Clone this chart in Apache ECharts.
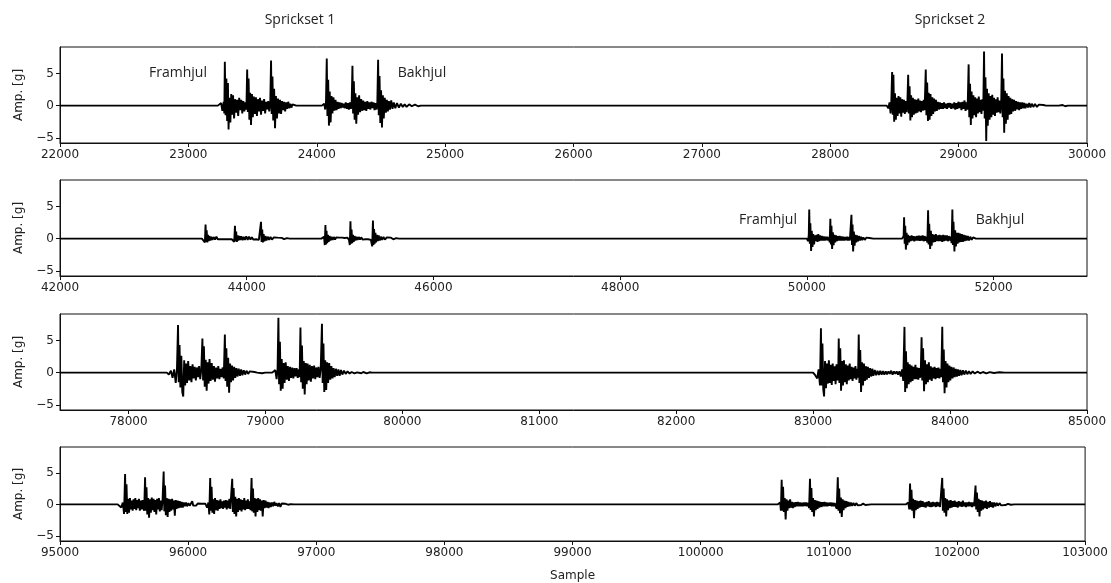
<!DOCTYPE html>
<html>
<head>
<meta charset="utf-8">
<title>Sprickset</title>
<script src="https://cdn.jsdelivr.net/npm/echarts@6/dist/echarts.min.js"></script>
<style>
    html, body { margin: 0; padding: 0; background: #fff; }
    #chart { width: 1111px; height: 583px; }
</style>
</head>
<body>
<div id="chart"></div>
<script>
// sample ranges (x) per row and their tick labels
var xRanges = [[22000, 30000], [42000, 53000], [77500, 85000], [95000, 103000]];
var xTicks = [
    [22000, 23000, 24000, 25000, 26000, 27000, 28000, 29000, 30000],
    [42000, 44000, 46000, 48000, 50000, 52000],
    [78000, 79000, 80000, 81000, 82000, 83000, 84000, 85000],
    [95000, 96000, 97000, 98000, 99000, 100000, 101000, 102000, 103000]
];
var yRange = [-5.8, 9.1];
var yTicks = [-5, 0, 5];

// row 1 - sprickset 1 (framhjul + bakhjul)
var row1Set1 = [[23230,0],[23245,-0.3],[23255,0.4],[23265,-0.8],[23275,0.6],[23280,-1.2],[23284,6.8],[23290,-1.5],[23296,4.2],[23302,-2.4],[23308,3.5],[23313,-3.7],[23320,1.2],[23327,-2.6],[23334,1.8],[23341,-1.4],[23348,1.6],[23356,-2.0],[23364,1.0],[23372,-1.1],[23380,0.9],[23388,-1.6],[23396,1.2],[23404,-0.7],[23412,0.9],[23420,-1.2],[23428,0.7],[23436,-0.9],[23444,0.5],[23452,-0.6],[23458,5.6],[23463,-1.0],[23469,4.2],[23475,-2.2],[23481,2.0],[23488,-3.0],[23495,1.8],[23502,-1.8],[23510,1.4],[23518,-1.3],[23526,1.3],[23534,-1.6],[23542,1.0],[23550,-0.9],[23558,1.2],[23566,-1.4],[23574,0.8],[23582,-0.8],[23590,1.0],[23598,-1.2],[23606,0.6],[23614,-0.6],[23622,0.7],[23630,-0.9],[23638,0.4],[23644,7.0],[23649,-1.3],[23655,4.5],[23661,-2.3],[23668,2.6],[23675,-3.5],[23682,1.5],[23690,-2.0],[23698,1.1],[23706,-1.2],[23714,0.9],[23722,-1.3],[23730,0.7],[23738,-0.7],[23746,0.6],[23754,-0.9],[23762,0.5],[23770,-0.5],[23778,0.6],[23786,-0.4],[23794,0.3],[23802,-0.3],[23812,0.2],[23825,-0.1],[23840,0],
    [24040,0],[24050,-0.2],[24058,0.3],[24066,-0.6],[24072,0.5],[24078,7.3],[24083,-1.6],[24089,4.0],[24095,-3.1],[24101,2.2],[24108,-2.6],[24115,1.5],[24122,-1.2],[24130,1.3],[24138,-0.8],[24146,0.9],[24154,-0.7],[24162,0.6],[24170,-0.5],[24178,0.5],[24186,-0.4],[24194,0.4],[24202,-0.3],[24210,0.3],[24218,-0.4],[24226,0.5],[24234,-0.5],[24242,0.4],[24250,-0.6],[24258,0.5],[24266,-0.5],[24272,0.3],[24278,6.2],[24283,-1.2],[24289,3.8],[24295,-2.2],[24301,1.9],[24308,-2.8],[24315,1.3],[24322,-1.4],[24330,1.6],[24338,-1.0],[24346,1.0],[24354,-0.8],[24362,0.8],[24370,-0.7],[24378,0.6],[24386,-0.8],[24394,0.7],[24402,-0.5],[24410,0.5],[24418,-0.6],[24426,0.6],[24434,-0.4],[24442,0.5],[24450,-0.7],[24458,0.4],[24466,-0.6],[24472,0.5],[24478,7.1],[24483,-1.5],[24489,4.6],[24495,-2.7],[24501,2.4],[24508,-3.4],[24515,1.6],[24522,-2.0],[24530,1.2],[24538,-1.1],[24546,0.9],[24554,-0.9],[24562,0.7],[24570,-0.6],[24580,0.8],[24590,-0.5],[24600,0.5],[24612,-0.4],[24625,0.4],[24640,-0.3],[24655,0.3],[24670,-0.2],[24685,0.2],[24700,-0.2],[24720,0.2],[24740,-0.1],[24765,0.15],[24790,-0.1],[24810,0]];

// row 1 - sprickset 2
var row1Set2 = [[28440,0],[28452,-0.4],[28462,0.5],[28470,-1.2],[28476,0.8],[28482,5.2],[28487,-1.4],[28492,4.8],[28498,-2.5],[28504,1.9],[28511,-2.2],[28518,1.2],[28525,-1.6],[28532,1.5],[28539,-1.2],[28546,1.3],[28553,-1.7],[28560,1.0],[28567,-1.1],[28574,0.9],[28581,-1.3],[28588,0.7],[28595,-1.0],[28601,0.6],[28607,4.8],[28612,-1.2],[28618,3.0],[28624,-2.3],[28630,1.6],[28637,-1.8],[28644,1.2],[28651,-1.4],[28658,1.0],[28665,-1.2],[28672,0.9],[28679,-1.1],[28686,1.1],[28693,-0.9],[28700,0.8],[28707,-1.0],[28714,0.7],[28721,-0.8],[28728,0.9],[28735,-0.7],[28744,5.6],[28749,-1.5],[28755,3.6],[28761,-2.4],[28767,2.0],[28774,-2.2],[28781,1.8],[28788,-1.6],[28795,1.3],[28802,-1.3],[28809,1.1],[28816,-0.9],[28823,0.9],[28830,-0.8],[28838,0.6],[28846,-0.6],[28854,0.5],[28862,-0.5],[28870,0.4],[28878,-0.5],[28886,0.5],[28894,-0.4],[28902,0.3],[28910,-0.5],[28918,0.4],[28926,-0.3],[28934,0.4],[28942,-0.5],[28950,0.3],[28958,-0.4],[28966,0.5],[28974,-0.6],[28982,0.4],[28990,-0.5],[28998,0.6],[29006,-0.4],[29014,0.5],[29022,-0.7],[29030,0.6],[29038,-0.5],[29046,0.8],[29054,-0.8],[29062,0.5],[29070,-0.6],[29078,6.4],[29083,-1.8],[29089,3.4],[29095,-3.0],[29101,2.2],[29108,-2.0],[29115,1.6],[29122,-1.5],[29129,1.3],[29136,-1.8],[29143,1.1],[29150,-1.2],[29157,1.4],[29164,-1.0],[29171,0.9],[29178,-1.3],[29185,1.0],[29192,-0.8],[29198,8.4],[29203,-2.0],[29209,4.4],[29215,-5.5],[29221,2.6],[29227,-3.1],[29234,1.9],[29241,-2.2],[29248,1.5],[29255,-1.8],[29262,1.7],[29269,-1.4],[29276,1.2],[29283,-1.6],[29290,1.0],[29297,-1.1],[29304,1.3],[29311,-1.0],[29318,0.8],[29325,-1.2],[29332,0.6],[29338,8.1],[29343,-1.8],[29349,4.2],[29355,-4.2],[29361,2.3],[29368,-2.8],[29375,1.9],[29382,-2.2],[29389,1.5],[29396,-1.4],[29403,1.2],[29410,-1.3],[29417,1.0],[29424,-0.9],[29432,0.9],[29440,-0.8],[29448,0.7],[29456,-0.6],[29464,0.6],[29472,-0.7],[29480,0.5],[29488,-0.5],[29496,0.5],[29504,-0.4],[29512,0.4],[29520,-0.4],[29530,0.3],[29540,-0.3],[29550,0.4],[29560,-0.3],[29570,0.3],[29582,-0.2],[29595,0.25],[29610,-0.2],[29625,0.15],[29640,-0.15],[29660,0.1],[29680,0],[29780,0],[29795,-0.15],[29810,0.1],[29830,-0.1],[29850,0]];

// row 2 - sprickset 1
var row2Set1 = [[43520,0],[43540,-0.2],[43552,-0.6],[43559,2.2],[43565,-0.5],[43571,1.3],[43578,-0.6],[43585,0.6],[43592,-0.4],[43600,0.4],[43610,-0.3],[43620,0.3],[43632,-0.2],[43645,0.25],[43660,-0.15],[43675,0.3],[43690,-0.1],[43705,0.2],[43720,-0.1],[43740,0.15],[43760,-0.1],[43780,0.1],[43800,-0.1],[43820,0.1],[43840,-0.1],[43855,0.1],[43866,-0.5],[43874,2.0],[43880,-0.4],[43887,1.1],[43894,-0.5],[43902,0.5],[43910,-0.3],[43920,0.4],[43930,-0.2],[43942,0.35],[43955,-0.25],[43968,0.3],[43980,-0.2],[43995,0.35],[44010,-0.2],[44025,0.3],[44040,-0.15],[44055,0.2],[44070,-0.15],[44085,0.15],[44100,-0.1],[44115,0.15],[44130,-0.2],[44145,-0.5],[44153,2.6],[44159,-0.5],[44166,1.4],[44173,-0.6],[44181,0.7],[44190,-0.4],[44200,0.4],[44212,-0.3],[44225,0.3],[44240,-0.2],[44255,0.25],[44270,-0.15],[44290,0.2],[44310,-0.1],[44330,0.15],[44350,-0.1],[44375,0.12],[44400,-0.08],[44430,0.08],[44460,0],
    [44800,0],[44815,-0.2],[44828,0.3],[44836,-1.0],[44843,2.1],[44849,-0.9],[44855,1.2],[44862,-0.7],[44870,0.6],[44878,-0.5],[44887,0.4],[44897,-0.3],[44908,0.3],[44920,-0.2],[44933,0.25],[44946,-0.15],[44960,0.2],[44975,-0.1],[44990,0.15],[45005,-0.1],[45020,0.15],[45035,-0.1],[45050,0.1],[45065,-0.1],[45080,0.15],[45095,-0.2],[45104,-1.0],[45111,2.7],[45117,-0.8],[45123,1.4],[45130,-0.7],[45138,0.6],[45146,-0.5],[45155,0.4],[45165,-0.3],[45176,0.3],[45188,-0.2],[45200,0.25],[45213,-0.15],[45226,0.2],[45240,-0.15],[45255,0.15],[45270,-0.1],[45285,0.15],[45300,-0.1],[45315,0.12],[45330,-0.2],[45344,-1.2],[45352,2.8],[45358,-1.0],[45364,1.5],[45371,-0.8],[45378,0.9],[45386,-0.6],[45395,0.6],[45404,-0.4],[45414,0.5],[45425,-0.3],[45437,0.3],[45450,-0.2],[45465,0.25],[45480,-0.15],[45500,0.2],[45520,-0.1],[45545,0.15],[45570,-0.1],[45600,0.08],[45630,0]];

// row 2 - sprickset 2
var row2Set2 = [[50000,0],[50012,-0.4],[50020,0.6],[50025,4.5],[50031,-0.8],[50037,2.4],[50045,-1.9],[50052,1.2],[50060,-1.3],[50068,0.7],[50077,-0.9],[50086,0.5],[50095,-0.4],[50104,0.6],[50113,-0.5],[50122,0.7],[50131,-0.4],[50140,0.5],[50150,-0.3],[50160,0.4],[50170,-0.3],[50180,0.35],[50190,-0.3],[50200,0.3],[50210,-0.25],[50220,0.3],[50230,-0.3],[50238,0.2],[50244,-0.6],[50251,3.1],[50257,-0.9],[50263,2.0],[50270,-1.6],[50278,1.0],[50286,-1.0],[50295,0.6],[50304,-0.6],[50313,0.5],[50322,-0.4],[50331,0.4],[50340,-0.3],[50350,0.4],[50360,-0.3],[50370,0.35],[50380,-0.3],[50390,0.3],[50400,-0.3],[50410,0.25],[50420,-0.25],[50430,0.3],[50440,-0.3],[50450,0.25],[50460,-0.3],[50470,-0.6],[50477,3.7],[50483,-1.0],[50489,2.2],[50495,-2.0],[50503,1.1],[50511,-1.1],[50520,0.6],[50529,-0.6],[50538,0.5],[50548,-0.4],[50558,0.4],[50568,-0.3],[50580,0.3],[50592,-0.25],[50605,0.2],[50620,-0.2],[50635,0.15],[50650,-0.1],[50670,0.1],[50690,-0.05],[50710,0],
    [51020,0],[51030,-0.3],[51036,0.4],[51041,3.3],[51047,-0.8],[51053,2.0],[51060,-1.7],[51068,0.9],[51076,-1.0],[51085,0.6],[51094,-0.6],[51103,0.4],[51112,-0.4],[51121,0.5],[51130,-0.3],[51140,0.4],[51150,-0.4],[51160,0.35],[51170,-0.3],[51180,0.4],[51190,-0.3],[51200,0.45],[51210,-0.35],[51220,0.4],[51230,-0.3],[51240,0.5],[51250,-0.4],[51260,0.4],[51270,-0.35],[51280,0.3],[51290,-0.6],[51298,4.4],[51304,-0.9],[51310,2.3],[51320,-1.6],[51328,1.2],[51336,-1.1],[51345,0.7],[51354,-0.6],[51363,0.6],[51372,-0.5],[51381,0.7],[51390,-0.4],[51400,0.5],[51410,-0.4],[51420,0.6],[51430,-0.4],[51440,0.5],[51450,-0.5],[51460,0.6],[51470,-0.4],[51480,0.5],[51490,-0.3],[51500,0.5],[51510,-0.4],[51520,0.4],[51530,-0.3],[51540,0.3],[51550,-0.7],[51558,4.5],[51564,-1.0],[51570,2.6],[51580,-2.0],[51588,1.3],[51596,-1.2],[51605,0.9],[51614,-0.8],[51623,0.9],[51632,-0.6],[51641,0.8],[51650,-0.5],[51660,0.7],[51670,-0.5],[51680,0.6],[51690,-0.4],[51700,0.5],[51712,-0.3],[51724,0.4],[51736,-0.3],[51750,0.3],[51765,-0.2],[51780,0.2],[51795,-0.1],[51810,0]];

// row 3 - sprickset 1
var row3Set1 = [[78280,0],[78295,-0.3],[78310,0.3],[78322,-0.8],[78334,0.5],[78345,-1.6],[78354,0.4],[78362,7.4],[78367,-1.5],[78373,4.3],[78379,-2.3],[78386,2.6],[78393,-3.0],[78400,-3.7],[78407,1.9],[78414,-2.0],[78421,1.4],[78428,-1.6],[78436,1.8],[78444,-1.2],[78452,1.0],[78460,-1.5],[78468,1.3],[78476,-0.9],[78484,0.9],[78492,-1.2],[78500,0.8],[78508,-0.7],[78516,1.0],[78524,-1.0],[78532,0.5],[78540,5.3],[78545,-1.2],[78551,4.1],[78557,-2.2],[78564,2.0],[78571,-2.8],[78578,1.6],[78585,-1.7],[78592,2.1],[78600,-1.3],[78608,1.5],[78616,-1.1],[78624,1.0],[78632,-1.4],[78640,0.8],[78648,-0.9],[78656,1.0],[78664,-1.0],[78672,0.6],[78680,-0.7],[78688,0.8],[78696,-0.9],[78704,5.9],[78709,-1.3],[78715,3.8],[78721,-2.2],[78728,2.3],[78735,-3.1],[78742,1.4],[78749,-1.5],[78756,1.1],[78764,-1.2],[78772,0.9],[78780,-0.8],[78788,0.7],[78796,-0.6],[78805,0.6],[78814,-0.5],[78823,0.5],[78832,-0.4],[78842,0.35],[78852,-0.3],[78862,0.3],[78874,-0.2],[78886,0.2],[78900,-0.1],[78920,0.1],[78940,0],[78975,-0.1],[78985,0.1],[78998,0],
    [79050,0],[79062,-0.3],[79072,0.4],[79082,-1.0],[79089,0.6],[79095,8.5],[79100,-1.8],[79106,4.8],[79112,-2.8],[79119,2.1],[79126,-2.5],[79133,1.5],[79140,-1.6],[79148,1.6],[79156,-1.1],[79164,1.0],[79172,-1.3],[79180,0.9],[79188,-0.8],[79196,0.8],[79204,-0.9],[79212,0.7],[79220,-0.6],[79228,0.7],[79236,-0.8],[79244,0.5],[79250,-0.7],[79256,7.0],[79261,-1.5],[79267,4.2],[79273,-2.5],[79280,1.8],[79287,-3.4],[79294,1.5],[79301,-1.8],[79308,1.4],[79316,-1.2],[79324,1.2],[79332,-1.4],[79340,1.0],[79348,-0.9],[79356,1.1],[79364,-1.0],[79372,0.8],[79380,-0.7],[79388,0.9],[79396,-0.8],[79404,0.6],[79413,7.6],[79418,-1.6],[79424,4.5],[79430,-3.0],[79437,1.9],[79444,-2.7],[79451,1.6],[79458,-1.6],[79466,1.5],[79474,-1.1],[79482,1.0],[79490,-0.9],[79498,0.7],[79506,-0.7],[79515,0.6],[79524,-0.5],[79533,0.5],[79542,-0.5],[79552,0.4],[79562,-0.3],[79574,0.3],[79586,-0.2],[79600,0.2],[79615,-0.15],[79630,0.1],[79650,-0.1],[79670,0.05],[79700,-0.1],[79715,0.1],[79740,-0.1],[79760,0.05],[79780,0]];

// row 3 - sprickset 2
var row3Set2 = [[83000,0],[83015,-0.4],[83030,-0.9],[83040,0.5],[83050,-2.0],[83057,6.9],[83062,-2.0],[83068,4.5],[83074,-2.6],[83080,-3.7],[83087,1.8],[83094,-2.4],[83101,1.4],[83108,-1.7],[83115,1.9],[83122,-1.6],[83129,1.2],[83136,-1.9],[83143,1.4],[83150,-1.3],[83157,1.0],[83164,-1.8],[83171,1.3],[83178,-1.2],[83184,0.8],[83187,5.3],[83192,-1.6],[83198,3.8],[83204,-2.8],[83211,1.8],[83218,-2.0],[83225,1.9],[83232,-1.5],[83239,1.3],[83246,-1.8],[83253,1.1],[83260,-1.2],[83267,1.4],[83274,-1.0],[83281,0.9],[83288,-1.3],[83295,0.8],[83302,-0.9],[83309,1.0],[83316,-1.1],[83322,0.6],[83328,-0.8],[83333,5.9],[83338,-1.6],[83344,3.5],[83350,-3.0],[83357,1.6],[83364,-2.0],[83371,1.4],[83378,-1.3],[83385,1.0],[83392,-1.1],[83400,0.9],[83408,-0.8],[83416,0.7],[83424,-0.6],[83432,0.6],[83440,-0.5],[83450,0.4],[83460,-0.4],[83470,0.3],[83480,-0.35],[83490,0.3],[83500,-0.3],[83510,0.25],[83520,-0.3],[83530,0.2],[83540,-0.25],[83550,0.2],[83560,-0.2],[83570,0.3],[83580,-0.3],[83590,0.2],[83600,-0.2],[83610,0.2],[83620,-0.3],[83630,0.2],[83640,-0.6],[83650,0.5],[83658,-1.3],[83667,7.1],[83672,-3.0],[83678,3.3],[83684,-2.4],[83691,1.6],[83698,-1.8],[83705,1.3],[83712,-1.5],[83719,1.1],[83726,-1.3],[83733,0.9],[83740,-1.0],[83747,1.2],[83754,-1.0],[83761,0.8],[83768,-1.1],[83775,0.7],[83782,-0.8],[83787,1.0],[83792,5.5],[83797,-1.2],[83803,3.8],[83810,-2.9],[83817,1.9],[83824,-1.8],[83831,1.3],[83838,-1.5],[83845,1.6],[83852,-1.1],[83859,1.0],[83866,-1.3],[83873,0.8],[83880,-0.9],[83887,0.9],[83894,-1.0],[83901,0.7],[83908,-0.8],[83915,0.8],[83922,-0.9],[83930,0.6],[83936,-0.7],[83943,7.1],[83948,-1.5],[83954,3.6],[83960,-3.2],[83967,1.8],[83974,-2.3],[83981,1.4],[83988,-1.5],[83995,1.1],[84002,-1.2],[84010,0.9],[84018,-0.9],[84026,0.8],[84034,-0.7],[84042,0.6],[84050,-0.6],[84058,0.5],[84066,-0.5],[84075,0.4],[84084,-0.4],[84094,0.35],[84104,-0.3],[84115,0.3],[84126,-0.25],[84138,0.2],[84150,-0.2],[84165,0.2],[84180,-0.15],[84200,0.15],[84220,-0.1],[84240,0.1],[84265,-0.1],[84290,0.08],[84320,-0.05],[84360,0.05],[84400,0]];

// row 4 - sprickset 1
var row4Set1 = [[95450,0],[95465,-0.2],[95478,-0.5],[95490,0.3],[95500,-1.5],[95508,4.8],[95513,-1.2],[95519,3.2],[95525,-1.5],[95532,0.9],[95539,-1.3],[95546,1.0],[95553,-0.8],[95560,0.6],[95567,-1.0],[95574,0.8],[95581,-0.7],[95588,1.0],[95595,-0.9],[95602,0.7],[95609,-0.6],[95616,0.9],[95623,-1.0],[95630,0.6],[95637,-0.8],[95644,0.7],[95651,-0.6],[95657,-1.0],[95664,4.3],[95669,-1.0],[95675,2.7],[95681,-1.6],[95688,1.0],[95695,-2.1],[95702,0.8],[95709,-1.3],[95716,1.1],[95723,-0.9],[95730,0.9],[95737,-1.2],[95744,0.7],[95751,-1.6],[95758,0.9],[95765,-0.8],[95772,1.0],[95779,-1.1],[95786,0.6],[95793,-0.9],[95800,0.5],[95809,5.2],[95814,-1.1],[95820,3.0],[95826,-1.7],[95833,1.0],[95840,-2.0],[95847,0.9],[95854,-1.2],[95861,0.8],[95868,-1.0],[95875,0.9],[95882,-0.8],[95889,0.6],[95896,-1.8],[95903,0.7],[95910,-0.7],[95918,0.6],[95926,-0.6],[95934,0.5],[95942,-0.5],[95950,0.4],[95958,-0.5],[95966,0.3],[95974,-0.3],[95983,0.3],[95992,-0.3],[96002,0.2],[96012,-0.2],[96022,0.15],[96032,0.5],[96040,-0.2],[96050,0.1],[96062,-0.2],[96075,0.15],[96090,-0.15],[96105,0.1],[96120,-0.1],[96135,0.1],[96148,-0.5],[96158,0.3],[96165,-1.6],[96172,4.2],[96177,-1.0],[96183,2.8],[96189,-1.3],[96196,0.8],[96203,-1.5],[96210,1.0],[96217,-0.9],[96224,0.7],[96231,-1.0],[96238,0.6],[96245,-0.7],[96252,0.8],[96259,-0.6],[96266,0.5],[96273,-0.7],[96280,0.6],[96287,-0.5],[96294,0.7],[96301,-0.8],[96308,0.6],[96315,-0.6],[96322,0.9],[96329,-0.7],[96336,-0.9],[96344,4.05],[96349,-1.2],[96355,2.6],[96361,-1.5],[96368,1.2],[96375,-1.9],[96382,0.9],[96389,-1.2],[96396,1.0],[96403,-0.9],[96410,0.8],[96417,-1.1],[96424,0.7],[96431,-0.8],[96438,1.0],[96445,-0.9],[96452,0.6],[96459,-0.7],[96466,0.8],[96473,-0.7],[96480,0.5],[96487,-0.9],[96495,4.2],[96500,-1.1],[96506,2.5],[96512,-1.3],[96519,1.0],[96526,-1.9],[96533,0.9],[96540,-1.2],[96547,1.0],[96554,-0.9],[96561,0.8],[96568,-1.0],[96575,0.6],[96582,-1.9],[96589,0.7],[96596,-0.6],[96604,0.6],[96612,-0.5],[96620,0.4],[96628,-0.6],[96636,0.3],[96645,-0.4],[96654,0.3],[96663,-0.3],[96672,0.4],[96681,-0.2],[96690,0.2],[96700,-0.3],[96710,0.2],[96720,-0.4],[96730,0.15],[96745,-0.1],[96760,0.1],[96780,-0.05],[96800,0.05],[96830,0]];

// row 4 - sprickset 2
var row4Set2 = [[100600,0],[100612,-0.3],[100620,0.3],[100626,-1.0],[100632,3.9],[100637,-1.0],[100643,2.8],[100649,-1.2],[100656,1.0],[100663,-2.4],[100670,0.8],[100677,-1.0],[100684,0.6],[100691,-0.6],[100698,0.8],[100705,-0.5],[100712,0.4],[100719,-0.6],[100726,0.3],[100734,-0.4],[100742,0.35],[100750,-0.3],[100758,0.4],[100766,-0.3],[100774,0.3],[100782,-0.3],[100790,0.25],[100798,-0.3],[100806,0.3],[100814,-0.25],[100822,0.3],[100830,-0.3],[100838,0.25],[100846,-0.6],[100853,4.05],[100858,-0.9],[100864,2.6],[100870,-1.2],[100877,1.0],[100884,-1.9],[100891,0.7],[100898,-0.9],[100905,0.6],[100912,-0.7],[100919,0.5],[100926,-0.5],[100934,0.4],[100942,-0.4],[100950,0.35],[100958,-0.3],[100966,0.4],[100974,-0.3],[100982,0.3],[100990,-0.3],[100998,0.25],[101006,-0.2],[101014,0.3],[101022,-0.3],[101030,0.25],[101038,-0.3],[101046,0.2],[101054,-0.3],[101062,-0.7],[101070,4.3],[101075,-1.0],[101081,2.5],[101087,-1.4],[101094,1.1],[101101,-2.0],[101108,0.8],[101115,-0.9],[101122,0.6],[101130,-0.6],[101138,0.5],[101146,-0.4],[101154,0.4],[101163,-0.3],[101172,0.3],[101182,-0.25],[101192,0.25],[101203,-0.2],[101214,0.2],[101226,-0.15],[101238,0.15],[101252,-0.1],[101268,0.12],[101285,-0.1],[101300,0.08],[101330,0],
    [101600,0],[101612,-0.2],[101620,0.3],[101628,-0.8],[101634,3.3],[101639,-0.8],[101645,2.3],[101651,-1.0],[101658,0.9],[101665,-2.2],[101672,0.7],[101679,-0.9],[101686,0.6],[101693,-0.7],[101700,0.5],[101708,-0.5],[101716,0.6],[101724,-0.4],[101732,0.5],[101740,-0.4],[101748,0.3],[101756,-0.5],[101764,0.4],[101772,-0.3],[101780,0.5],[101788,-0.4],[101796,0.3],[101804,-0.4],[101812,0.4],[101820,-0.3],[101828,0.3],[101836,-0.4],[101844,0.4],[101852,-0.3],[101860,0.3],[101868,-0.4],[101878,-0.7],[101885,4.2],[101890,-1.0],[101896,2.5],[101902,-1.3],[101909,1.0],[101916,-1.9],[101923,0.8],[101930,-0.9],[101937,0.6],[101944,-0.6],[101951,0.7],[101958,-0.5],[101966,0.5],[101974,-0.4],[101982,0.6],[101990,-0.4],[101998,0.4],[102006,-0.5],[102014,0.5],[102022,-0.3],[102030,0.4],[102038,-0.4],[102046,0.6],[102054,-0.3],[102062,0.3],[102070,-0.4],[102078,0.3],[102086,-0.3],[102094,0.4],[102102,-0.3],[102110,0.3],[102118,-0.4],[102126,0.3],[102134,-0.3],[102140,-0.6],[102145,3.0],[102150,-0.8],[102156,1.9],[102162,-1.2],[102169,0.9],[102176,-1.9],[102183,0.7],[102190,-1.0],[102197,0.6],[102204,-0.8],[102211,0.5],[102218,-0.6],[102226,0.6],[102234,-0.7],[102242,0.4],[102250,-0.5],[102258,0.5],[102266,-0.4],[102274,0.3],[102282,-0.5],[102290,0.3],[102300,-0.3],[102310,0.25],[102320,-0.2],[102332,0.2],[102345,-0.15],[102360,0.15],[102378,-0.1],[102398,0.1],[102420,-0.05],[102450,0]];

var rows = [[row1Set1, row1Set2], [row2Set1, row2Set2], [row3Set1, row3Set2], [row4Set1, row4Set2]];

var chart = echarts.init(document.getElementById('chart'));

var gridTops = [47, 180, 314, 447];
var tickFont = { fontFamily: 'DejaVu Sans', fontSize: 12, color: '#222' };
var noteFont = 'Open Sans';

var grids = [], xAxes = [], yAxes = [], series = [];
rows.forEach(function (sets, i) {
    grids.push({
        left: 60, right: 24, top: gridTops[i], height: 96,
        show: true, borderColor: '#111', borderWidth: 1, backgroundColor: '#fff'
    });
    xAxes.push({
        type: 'value', gridIndex: i,
        min: xRanges[i][0], max: xRanges[i][1],
        axisLine: { show: true, onZero: false, lineStyle: { color: '#111' } },
        axisTick: { show: true, length: 4, lineStyle: { color: '#111' }, customValues: xTicks[i] },
        axisLabel: Object.assign({
            margin: 6, customValues: xTicks[i],
            formatter: function (v) { return String(v); }
        }, tickFont),
        splitLine: { show: false },
        name: i === 3 ? 'Sample' : '',
        nameLocation: 'middle', nameGap: 29,
        nameTextStyle: { fontFamily: 'DejaVu Sans', fontSize: 12, color: '#222' }
    });
    yAxes.push({
        type: 'value', gridIndex: i,
        min: yRange[0], max: yRange[1],
        axisLine: { show: true, onZero: false, lineStyle: { color: '#111' } },
        axisTick: { show: true, length: 4, lineStyle: { color: '#111' }, customValues: yTicks },
        axisLabel: Object.assign({
            margin: 6, customValues: yTicks,
            formatter: function (v) { return String(v).replace('-', '\u2212'); }
        }, tickFont),
        splitLine: { show: false },
        name: 'Amp. [g]', nameLocation: 'middle', nameRotate: 90, nameGap: 35,
        nameTextStyle: { fontFamily: 'DejaVu Sans', fontSize: 12, color: '#222' }
    });
    var data = [[xRanges[i][0], 0]].concat(sets[0], sets[1], [[xRanges[i][1], 0]]);
    series.push({
        type: 'line', xAxisIndex: i, yAxisIndex: i,
        data: data, showSymbol: false, symbol: 'none',
        lineStyle: { color: '#000', width: 1.9 },
        silent: true
    });
});

function note(text, x, y, size) {
    return {
        type: 'text', x: x, y: y,
        style: {
            text: text, fill: '#222', font: size + 'px "' + noteFont + '"',
            textAlign: 'center', textVerticalAlign: 'middle'
        }
    };
}

chart.setOption({
    animation: false,
    grid: grids,
    xAxis: xAxes,
    yAxis: yAxes,
    series: series,
    graphic: [
        note('Sprickset 1', 300, 20, 14),
        note('Sprickset 2', 950, 20, 14),
        note('Framhjul', 178, 73, 14),
        note('Bakhjul', 422, 73, 14),
        note('Framhjul', 768, 220, 14),
        note('Bakhjul', 1000, 220, 14)
    ]
});
</script>
</body>
</html>
